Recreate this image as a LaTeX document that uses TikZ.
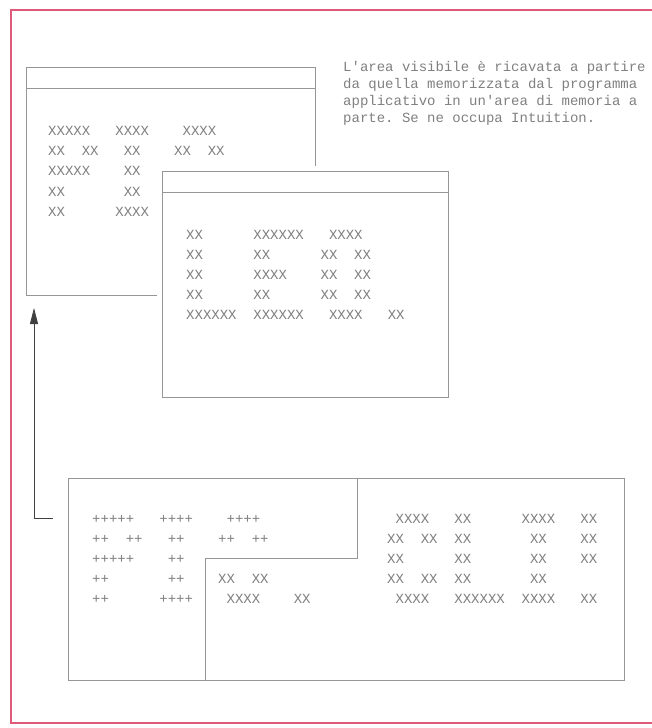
\documentclass[tikz,border=0pt]{standalone}
\usepackage{fontspec}
\setmonofont{Liberation Mono}
\usetikzlibrary{arrows.meta}
\definecolor{framered}{RGB}{222,90,120}
\definecolor{inkgray}{RGB}{150,150,150}
\definecolor{txtgray}{RGB}{128,128,128}
\frenchspacing

\begin{document}
\begin{tikzpicture}[x=1pt, y=-1pt,
  window/.style={rectangle, draw=inkgray, line width=0.8pt,
                 anchor=north west, inner sep=0pt},
  halo/.style={preaction={draw=white, line width=10pt}},
  dots/.style={anchor=base west, inner sep=0pt, text=txtgray,
               font=\ttfamily\fontsize{14}{17.2}\selectfont},
  link/.style={-{Triangle[length=16pt,width=8pt]}, draw=black!75, line width=0.8pt}
]
\useasboundingbox (0,0) rectangle (651,728);

% page frame
\draw[framered, line width=2pt] (660,10) -| (11,723) -- (660,723);

% visible window (back)
\node[window, minimum width=289pt, minimum height=228pt] (vis) at (26,67) {};
\draw[inkgray, line width=0.8pt] ([yshift=-21pt]vis.north west) -- ([yshift=-21pt]vis.north east);
\foreach \txt [count=\i from 0] in {XXXXX~~~XXXX~~~~XXXX, XX~~XX~~~XX~~~~XX~~XX,
    XXXXX~~~~XX, XX~~~~~~~XX, XX~~~~~~XXXX}
  \node[dots] (vis-\i) at (48,135+20.4*\i) {\txt};

% visible window (front)
\node[window, halo, fill=white, minimum width=286pt, minimum height=226pt] (front) at (162,171) {};
\draw[inkgray, line width=0.8pt] ([yshift=-21pt]front.north west) -- ([yshift=-21pt]front.north east);
\foreach \txt [count=\i from 0] in {XX~~~~~~XXXXXX~~~XXXX, XX~~~~~~XX~~~~~~XX~~XX,
    XX~~~~~~XXXX~~~~XX~~XX, XX~~~~~~XX~~~~~~XX~~XX, XXXXXX~~XXXXXX~~~XXXX~~~XX}
  \node[dots] (front-\i) at (186,239+20.1*\i) {\txt};

% caption (base = last line)
\node[dots, align=left] (note) at (343,122.6)
  {L'area visibile è ricavata a partire\\
   da quella memorizzata dal programma\\
   applicativo in un'area di memoria a\\
   parte. Se ne occupa Intuition.};

% memory area
\node[window, minimum width=556pt, minimum height=202pt] (mem) at (68,478) {};
\coordinate (split-top) at (357,478);
\coordinate (split-mid) at (205,558);
\draw[inkgray, line width=0.8pt] (split-top) |- (split-mid) -- (split-mid |- mem.south);
\foreach \txt [count=\i from 0] in {+++++~~~++++~~~~++++, ++~~++~~~++~~~~++~~++,
    +++++~~~~++, ++~~~~~~~++~~~~XX~~XX, ++~~~~~~++++~~~~XXXX~~~~XX}
  \node[dots] (memL-\i) at (92,523.5+20*\i) {\txt};
\foreach \txt [count=\i from 0] in {~XXXX~~~XX~~~~~~XXXX~~~XX, XX~~XX~~XX~~~~~~~XX~~~~XX,
    XX~~~~~~XX~~~~~~~XX~~~~XX, XX~~XX~~XX~~~~~~~XX, ~XXXX~~~XXXXXX~~XXXX~~~XX}
  \node[dots] (memR-\i) at (387,523.5+20*\i) {\txt};

% copy from memory to screen
\coordinate (tap) at (53,518);
\coordinate (tip) at (34,308);
\draw[link] (tap) -| (tip);
\end{tikzpicture}
\end{document}
